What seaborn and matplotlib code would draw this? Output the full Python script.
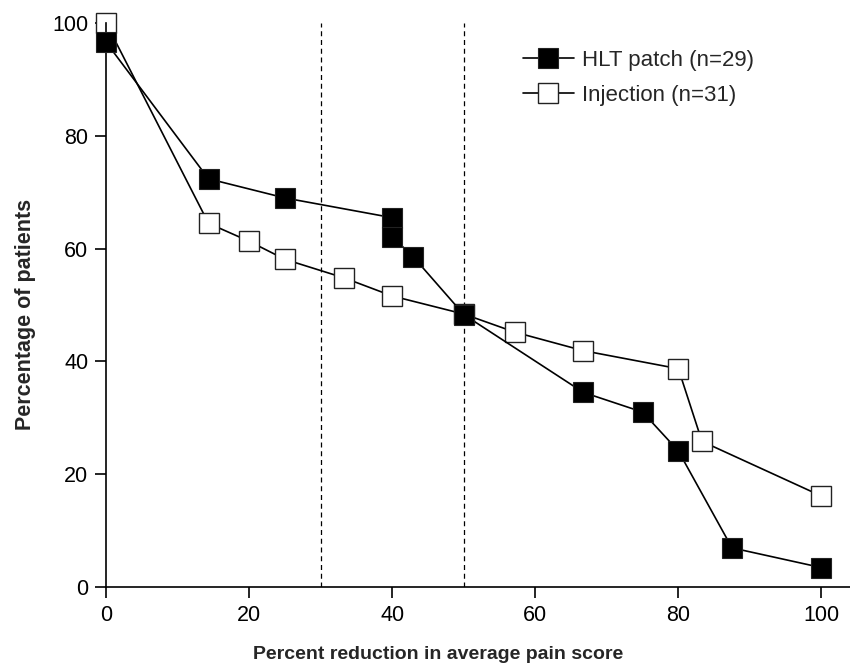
import matplotlib
matplotlib.use('Agg')
import matplotlib.pyplot as plt
import seaborn as sns

# 데이터
hlt_x = [0, 14.3, 25, 40, 40, 42.9, 50, 66.7, 75, 80, 87.5, 100]
hlt_y = [96.6, 72.4, 69.0, 65.5, 62.1, 58.6, 48.3, 34.5, 31.0, 24.1, 6.9, 3.4]
inj_x = [0, 14.3, 20, 25, 33.3, 40, 50, 57.1, 66.7, 80, 83.3, 100]
inj_y = [100, 64.5, 61.3, 58.1, 54.8, 51.6, 48.4, 45.2, 41.9, 38.7, 25.8, 16.1]
cutoffs = [30, 50]
x_ticks = [0, 20, 40, 60, 80, 100]
y_ticks = [0, 20, 40, 60, 80, 100]

sns.set_style('ticks')
plt.rcParams['font.family'] = ['Liberation Sans', 'DejaVu Sans']

fig = plt.figure(figsize=(8.5, 6.66), dpi=100)
ax = fig.add_axes([0.125, 0.119, 0.875, 0.846])

for xc in cutoffs:
    ax.axvline(xc, ymin=0, ymax=1, color='black', linestyle=(0, (4, 3)), linewidth=0.9, zorder=1)

sns.lineplot(x=hlt_x, y=hlt_y, ax=ax, estimator=None, sort=False, color='black',
             linewidth=1.2, marker='s', markersize=14, markerfacecolor='black',
             markeredgecolor='#222222', markeredgewidth=0.8, label='HLT patch (n=29)',
             clip_on=False, zorder=3)
sns.lineplot(x=inj_x, y=inj_y, ax=ax, estimator=None, sort=False, color='black',
             linewidth=1.2, marker='s', markersize=14, markerfacecolor='white',
             markeredgecolor='#222222', markeredgewidth=1.0, label='Injection (n=31)',
             clip_on=False, zorder=2)

ax.set_xlim(0, 104)
ax.set_ylim(0, 100)
ax.set_xticks(x_ticks)
ax.set_yticks(y_ticks)
ax.tick_params(axis='both', direction='out', length=8, width=1.2, labelsize=15.5, colors='black', pad=5)
for s in ['top', 'right']:
    ax.spines[s].set_visible(False)
for s in ['left', 'bottom']:
    ax.spines[s].set_linewidth(1.2)
    ax.spines[s].set_color('black')

ax.set_xlabel('Percent reduction in average pain score', fontsize=14, fontweight='bold')
ax.set_ylabel('Percentage of patients', fontsize=15.5, fontweight='bold')
ax.xaxis.set_label_coords(0.446, -0.105)
ax.yaxis.set_label_coords(-0.094, 0.483)

ax.legend(loc='upper left', bbox_to_anchor=(0.56, 0.953), frameon=False, fontsize=16,
          handlelength=2.3, handletextpad=0.35, labelspacing=0.62, borderpad=0,
          borderaxespad=0, markerscale=1.0)

fig.savefig('out.png', dpi=100)
